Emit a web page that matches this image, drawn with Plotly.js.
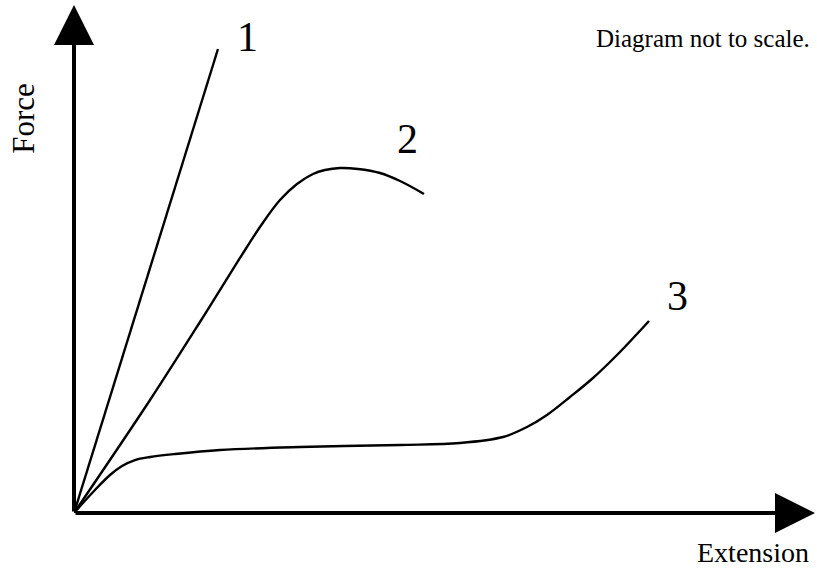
<!DOCTYPE html>
<html>
<head>
<meta charset="utf-8">
<script src="https://cdn.plot.ly/plotly-3.0.1.min.js"></script>
<style>html,body{margin:0;padding:0;background:#fff}#chart{width:817px;height:576px}</style>
</head>
<body>
<div id="chart"></div>
<script>
// Schematic force–extension curves (arbitrary units, not to scale)
const curve1X = [0, 19.43];
const curve1Y = [0, 91.34];

const curve2X = [0, 10.26, 17.00, 22.40, 25.37, 27.80, 30.09, 32.25, 33.87, 35.90, 38.33, 41.30, 44.00, 47.23];
const curve2Y = [0, 22.24, 37.60, 50.20, 56.89, 61.61, 64.76, 66.73, 67.52, 67.91, 67.72, 66.93, 65.35, 62.80];

const curve3X = [0, 2.83, 4.86, 6.48, 8.23, 10.26, 13.63, 19.70, 30.50, 43.99, 52.09, 57.89, 61.13, 63.83, 66.94, 70.04, 73.28, 75.98, 77.60];
const curve3Y = [0, 4.53, 7.48, 9.25, 10.43, 11.02, 11.61, 12.40, 12.99, 13.39, 13.78, 14.96, 16.93, 19.29, 22.83, 26.57, 31.10, 35.24, 37.80];

const curveNames = ["1", "2", "3"];
const labelX = [23.35, 44.94, 81.51];
const labelY = [93.70, 73.62, 42.72];

const xTitle = "Extension";
const yTitle = "Force";
const note = "Diagram not to scale.";

const xMax = 100, yMax = 100;

const serif = "'Liberation Serif', 'Times New Roman', Times, serif";
const lineStyle = {color: "#000", width: 2.4, shape: "spline", smoothing: 1};

const traces = [
  {x: curve1X, y: curve1Y, mode: "lines", line: {color: "#000", width: 2.4}, name: curveNames[0], hoverinfo: "skip"},
  {x: curve2X, y: curve2Y, mode: "lines", line: lineStyle, name: curveNames[1], hoverinfo: "skip"},
  {x: curve3X, y: curve3Y, mode: "lines", line: lineStyle, name: curveNames[2], hoverinfo: "skip"}
];

const annotations = [
  // axes drawn as arrows
  {x: xMax, y: 0, ax: 0, ay: 0, xref: "x", yref: "y", axref: "x", ayref: "y", text: "", showarrow: true,
   arrowhead: 2, arrowwidth: 4, arrowsize: 2, arrowcolor: "#000"},
  {x: 0, y: yMax, ax: 0, ay: 0, xref: "x", yref: "y", axref: "x", ayref: "y", text: "", showarrow: true,
   arrowhead: 2, arrowwidth: 4, arrowsize: 2, arrowcolor: "#000"},
  {x: -0.0675, y: 0.778, xref: "paper", yref: "paper", xanchor: "center", yanchor: "middle",
   text: yTitle, textangle: -90, showarrow: false, font: {family: serif, size: 31, color: "#000"}},
  {x: 0.916, y: -0.0787, xref: "paper", yref: "paper", xanchor: "center", yanchor: "middle",
   text: xTitle, showarrow: false, font: {family: serif, size: 28, color: "#000"}},
  {x: 0.996, y: 0.935, xref: "paper", yref: "paper", xanchor: "right", yanchor: "middle",
   text: note, showarrow: false, font: {family: serif, size: 25, color: "#000"}}
];
curveNames.forEach((n, i) => annotations.push({
  x: labelX[i], y: labelY[i], xref: "x", yref: "y", xanchor: "center", yanchor: "middle",
  text: n, showarrow: false, font: {family: serif, size: 42, color: "#000"}
}));

const axisCommon = {showgrid: false, zeroline: false, showline: false, showticklabels: false, ticks: "", fixedrange: true};

const layout = {
  width: 817, height: 576,
  margin: {l: 74, r: 2, t: 5, b: 63, pad: 0},
  paper_bgcolor: "#fff", plot_bgcolor: "#fff",
  showlegend: false,
  xaxis: Object.assign({range: [0, xMax]}, axisCommon),
  yaxis: Object.assign({range: [0, yMax]}, axisCommon),
  annotations: annotations
};

Plotly.newPlot("chart", traces, layout, {displayModeBar: false, staticPlot: true});
</script>
</body>
</html>
